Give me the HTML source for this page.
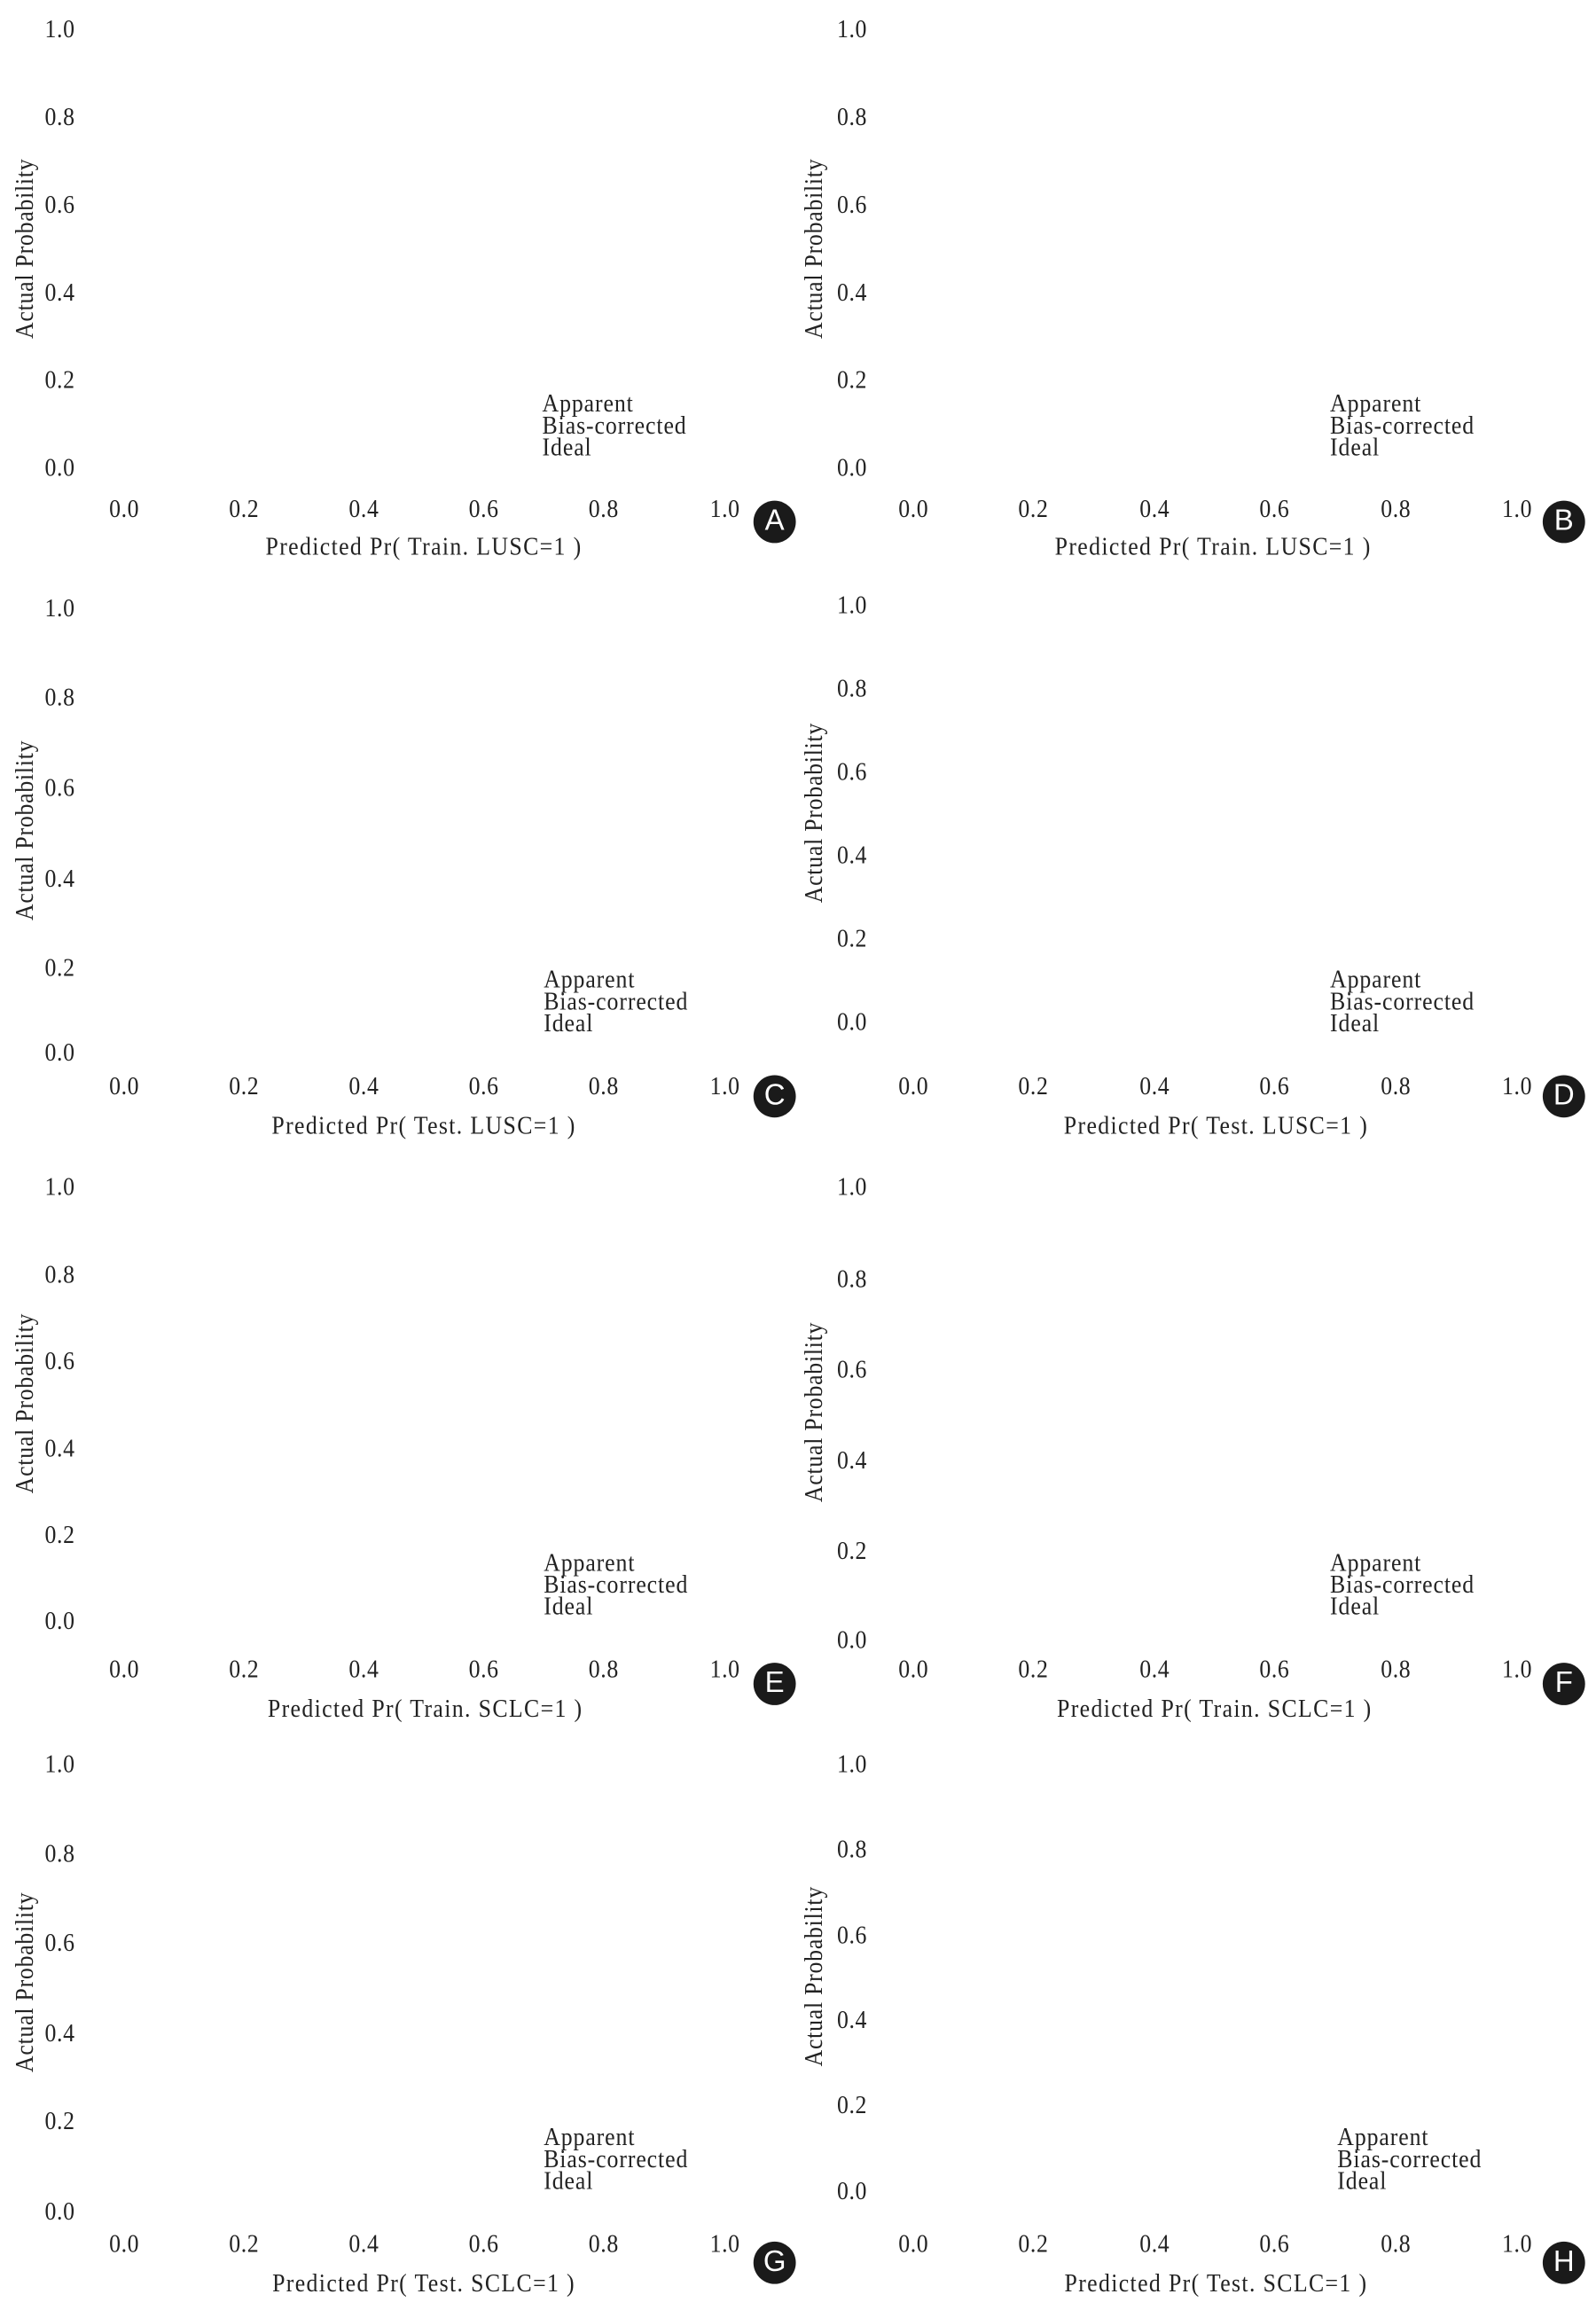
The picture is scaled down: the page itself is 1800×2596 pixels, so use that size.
<!DOCTYPE html>
<html><head><meta charset="utf-8"><style>
html,body{margin:0;padding:0;background:#fff;}
#root{position:relative;width:1800px;height:2596px;overflow:hidden;background:#fff;}
#w{position:absolute;left:0;top:5px;width:1092px;height:1575px;transform:scale(1.6484);transform-origin:0 0;font-family:"Liberation Serif",serif;color:#222;}
.t{position:absolute;transform:translate(-50%,-50%) scaleX(.92);white-space:nowrap;font-size:17px;line-height:1;letter-spacing:.4px;}
.l{position:absolute;transform:translate(0,-50%) scaleX(.92);transform-origin:0 50%;white-space:nowrap;font-size:17px;line-height:1;letter-spacing:.6px;}
.y{position:absolute;transform:translate(-50%,-50%) rotate(-90deg) scaleX(.92);white-space:nowrap;font-size:17px;line-height:1;letter-spacing:.5px;}
.x{letter-spacing:.9px;}
.c{position:absolute;width:29px;height:29px;border-radius:50%;background:#1a1a1a;color:#fff;font-family:"Liberation Sans",sans-serif;font-size:20px;line-height:29px;text-align:center;transform:translate(-50%,-50%);}
</style></head><body><div id="root"><div id="w">

<!-- A -->
<div class="t" style="left:41px;top:17px">1.0</div><div class="t" style="left:41px;top:77px">0.8</div><div class="t" style="left:41px;top:137px">0.6</div><div class="t" style="left:41px;top:197px">0.4</div><div class="t" style="left:41px;top:257px">0.2</div><div class="t" style="left:41px;top:317px">0.0</div>
<div class="t" style="left:85px;top:345px">0.0</div><div class="t" style="left:167px;top:345px">0.2</div><div class="t" style="left:249px;top:345px">0.4</div><div class="t" style="left:331px;top:345px">0.6</div><div class="t" style="left:413px;top:345px">0.8</div><div class="t" style="left:496px;top:345px">1.0</div>
<div class="t x" style="left:290px;top:371px">Predicted Pr( Train. LUSC=1 )</div>
<div class="y" style="left:17px;top:167px">Actual Probability</div>
<div class="l" style="left:371px;top:273px">Apparent</div><div class="l" style="left:371px;top:288px">Bias-corrected</div><div class="l" style="left:371px;top:303px">Ideal</div>
<div class="c" style="left:530px;top:354px">A</div>

<!-- B -->
<div class="t" style="left:583px;top:17px">1.0</div><div class="t" style="left:583px;top:77px">0.8</div><div class="t" style="left:583px;top:137px">0.6</div><div class="t" style="left:583px;top:197px">0.4</div><div class="t" style="left:583px;top:257px">0.2</div><div class="t" style="left:583px;top:317px">0.0</div>
<div class="t" style="left:625px;top:345px">0.0</div><div class="t" style="left:707px;top:345px">0.2</div><div class="t" style="left:790px;top:345px">0.4</div><div class="t" style="left:872px;top:345px">0.6</div><div class="t" style="left:955px;top:345px">0.8</div><div class="t" style="left:1038px;top:345px">1.0</div>
<div class="t x" style="left:830px;top:371px">Predicted Pr( Train. LUSC=1 )</div>
<div class="y" style="left:557px;top:167px">Actual Probability</div>
<div class="l" style="left:910px;top:273px">Apparent</div><div class="l" style="left:910px;top:288px">Bias-corrected</div><div class="l" style="left:910px;top:303px">Ideal</div>
<div class="c" style="left:1070px;top:354px">B</div>

<!-- C -->
<div class="t" style="left:41px;top:413px">1.0</div><div class="t" style="left:41px;top:474px">0.8</div><div class="t" style="left:41px;top:536px">0.6</div><div class="t" style="left:41px;top:598px">0.4</div><div class="t" style="left:41px;top:659px">0.2</div><div class="t" style="left:41px;top:717px">0.0</div>
<div class="t" style="left:85px;top:740px">0.0</div><div class="t" style="left:167px;top:740px">0.2</div><div class="t" style="left:249px;top:740px">0.4</div><div class="t" style="left:331px;top:740px">0.6</div><div class="t" style="left:413px;top:740px">0.8</div><div class="t" style="left:496px;top:740px">1.0</div>
<div class="t x" style="left:290px;top:767px">Predicted Pr( Test. LUSC=1 )</div>
<div class="y" style="left:17px;top:565px">Actual Probability</div>
<div class="l" style="left:372px;top:667px">Apparent</div><div class="l" style="left:372px;top:682px">Bias-corrected</div><div class="l" style="left:372px;top:697px">Ideal</div>
<div class="c" style="left:530px;top:747px">C</div>

<!-- D -->
<div class="t" style="left:583px;top:411px">1.0</div><div class="t" style="left:583px;top:468px">0.8</div><div class="t" style="left:583px;top:525px">0.6</div><div class="t" style="left:583px;top:582px">0.4</div><div class="t" style="left:583px;top:639px">0.2</div><div class="t" style="left:583px;top:696px">0.0</div>
<div class="t" style="left:625px;top:740px">0.0</div><div class="t" style="left:707px;top:740px">0.2</div><div class="t" style="left:790px;top:740px">0.4</div><div class="t" style="left:872px;top:740px">0.6</div><div class="t" style="left:955px;top:740px">0.8</div><div class="t" style="left:1038px;top:740px">1.0</div>
<div class="t x" style="left:832px;top:767px">Predicted Pr( Test. LUSC=1 )</div>
<div class="y" style="left:557px;top:553px">Actual Probability</div>
<div class="l" style="left:910px;top:667px">Apparent</div><div class="l" style="left:910px;top:682px">Bias-corrected</div><div class="l" style="left:910px;top:697px">Ideal</div>
<div class="c" style="left:1070px;top:747px">D</div>

<!-- E -->
<div class="t" style="left:41px;top:809px">1.0</div><div class="t" style="left:41px;top:869px">0.8</div><div class="t" style="left:41px;top:928px">0.6</div><div class="t" style="left:41px;top:988px">0.4</div><div class="t" style="left:41px;top:1047px">0.2</div><div class="t" style="left:41px;top:1106px">0.0</div>
<div class="t" style="left:85px;top:1139px">0.0</div><div class="t" style="left:167px;top:1139px">0.2</div><div class="t" style="left:249px;top:1139px">0.4</div><div class="t" style="left:331px;top:1139px">0.6</div><div class="t" style="left:413px;top:1139px">0.8</div><div class="t" style="left:496px;top:1139px">1.0</div>
<div class="t x" style="left:291px;top:1166px">Predicted Pr( Train. SCLC=1 )</div>
<div class="y" style="left:17px;top:957px">Actual Probability</div>
<div class="l" style="left:372px;top:1066px">Apparent</div><div class="l" style="left:372px;top:1081px">Bias-corrected</div><div class="l" style="left:372px;top:1096px">Ideal</div>
<div class="c" style="left:530px;top:1149px">E</div>

<!-- F -->
<div class="t" style="left:583px;top:809px">1.0</div><div class="t" style="left:583px;top:872px">0.8</div><div class="t" style="left:583px;top:934px">0.6</div><div class="t" style="left:583px;top:996px">0.4</div><div class="t" style="left:583px;top:1058px">0.2</div><div class="t" style="left:583px;top:1119px">0.0</div>
<div class="t" style="left:625px;top:1139px">0.0</div><div class="t" style="left:707px;top:1139px">0.2</div><div class="t" style="left:790px;top:1139px">0.4</div><div class="t" style="left:872px;top:1139px">0.6</div><div class="t" style="left:955px;top:1139px">0.8</div><div class="t" style="left:1038px;top:1139px">1.0</div>
<div class="t x" style="left:831px;top:1166px">Predicted Pr( Train. SCLC=1 )</div>
<div class="y" style="left:557px;top:963px">Actual Probability</div>
<div class="l" style="left:910px;top:1066px">Apparent</div><div class="l" style="left:910px;top:1081px">Bias-corrected</div><div class="l" style="left:910px;top:1096px">Ideal</div>
<div class="c" style="left:1070px;top:1149px">F</div>

<!-- G -->
<div class="t" style="left:41px;top:1204px">1.0</div><div class="t" style="left:41px;top:1265px">0.8</div><div class="t" style="left:41px;top:1326px">0.6</div><div class="t" style="left:41px;top:1388px">0.4</div><div class="t" style="left:41px;top:1448px">0.2</div><div class="t" style="left:41px;top:1510px">0.0</div>
<div class="t" style="left:85px;top:1532px">0.0</div><div class="t" style="left:167px;top:1532px">0.2</div><div class="t" style="left:249px;top:1532px">0.4</div><div class="t" style="left:331px;top:1532px">0.6</div><div class="t" style="left:413px;top:1532px">0.8</div><div class="t" style="left:496px;top:1532px">1.0</div>
<div class="t x" style="left:290px;top:1559px">Predicted Pr( Test. SCLC=1 )</div>
<div class="y" style="left:17px;top:1353px">Actual Probability</div>
<div class="l" style="left:372px;top:1459px">Apparent</div><div class="l" style="left:372px;top:1474px">Bias-corrected</div><div class="l" style="left:372px;top:1489px">Ideal</div>
<div class="c" style="left:530px;top:1545px">G</div>

<!-- H -->
<div class="t" style="left:583px;top:1204px">1.0</div><div class="t" style="left:583px;top:1262px">0.8</div><div class="t" style="left:583px;top:1321px">0.6</div><div class="t" style="left:583px;top:1379px">0.4</div><div class="t" style="left:583px;top:1437px">0.2</div><div class="t" style="left:583px;top:1496px">0.0</div>
<div class="t" style="left:625px;top:1532px">0.0</div><div class="t" style="left:707px;top:1532px">0.2</div><div class="t" style="left:790px;top:1532px">0.4</div><div class="t" style="left:872px;top:1532px">0.6</div><div class="t" style="left:955px;top:1532px">0.8</div><div class="t" style="left:1038px;top:1532px">1.0</div>
<div class="t x" style="left:832px;top:1559px">Predicted Pr( Test. SCLC=1 )</div>
<div class="y" style="left:557px;top:1349px">Actual Probability</div>
<div class="l" style="left:915px;top:1459px">Apparent</div><div class="l" style="left:915px;top:1474px">Bias-corrected</div><div class="l" style="left:915px;top:1489px">Ideal</div>
<div class="c" style="left:1070px;top:1545px">H</div>

</div></div></body></html>
